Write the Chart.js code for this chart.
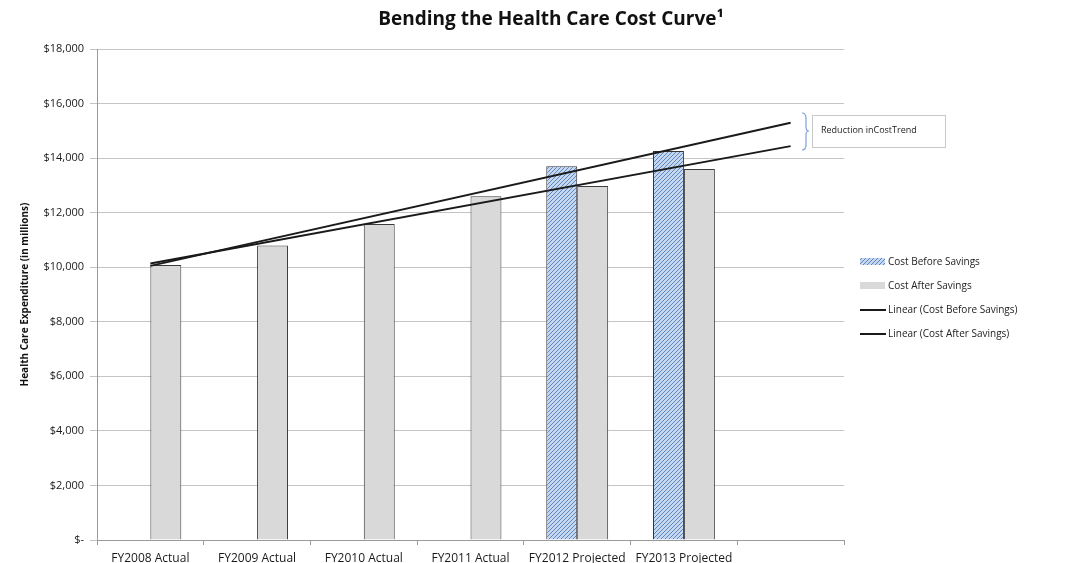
<!DOCTYPE html>
<html>
<head>
<meta charset="utf-8">
<script src="https://cdn.jsdelivr.net/npm/chart.js@4.4.1/dist/chart.umd.min.js"></script>
<style>
  html, body { margin: 0; padding: 0; background: #fff; }
  #wrap { width: 1066px; height: 563px; position: relative; }
</style>
</head>
<body>
<div id="wrap"><canvas id="costChart"></canvas></div>
<script>
// chart data
const categories = ['FY2008 Actual', 'FY2009 Actual', 'FY2010 Actual', 'FY2011 Actual', 'FY2012 Projected', 'FY2013 Projected', ''];
const costBefore = [null, null, null, null, 13700, 14260, null];
const costAfter = [10080, 10800, 11580, 12600, 12980, 13600, null];
// trendline end points (Excel linear trend, forecast one period forward)
const trendBefore = [10050, null, null, null, null, null, 15300];
const trendAfter = [10140, null, null, null, null, null, 14440];
const yTicks = [0, 2000, 4000, 6000, 8000, 10000, 12000, 14000, 16000, 18000];

const FONT = "'Open Sans', 'DejaVu Sans', sans-serif";

function makeHatch() {
    const c = document.createElement('canvas');
    c.width = 4; c.height = 4;
    const g = c.getContext('2d');
    g.fillStyle = '#c6d8ef';
    g.fillRect(0, 0, 4, 4);
    g.strokeStyle = '#5b84c0';
    g.lineWidth = 1;
    g.beginPath();
    g.moveTo(0, 4); g.lineTo(4, 0);
    g.moveTo(-1, 1); g.lineTo(1, -1);
    g.moveTo(3, 5); g.lineTo(5, 3);
    g.stroke();
    return g.createPattern(c, 'repeat');
}
const hatch = makeHatch();

// title, legend and the "Reduction in Cost Trend" note
const decor = {
    id: 'decor',
    afterDraw(chart) {
        const ctx = chart.ctx;
        ctx.save();

        ctx.fillStyle = '#111';
        ctx.font = "bold 19px " + FONT;
        ctx.textAlign = 'center';
        ctx.textBaseline = 'middle';
        ctx.fillText('Bending the Health Care Cost Curve\u00b9', 551, 20);

        // legend
        const items = chart.data.datasets;
        const ys = [262, 286, 310, 334];
        ctx.font = "10px " + FONT;
        ctx.textAlign = 'left';
        items.forEach((d, i) => {
            const y = ys[i];
            if (d.type === 'line') {
                ctx.strokeStyle = d.borderColor;
                ctx.lineWidth = 2;
                ctx.beginPath();
                ctx.moveTo(860, y);
                ctx.lineTo(886, y);
                ctx.stroke();
            } else {
                ctx.fillStyle = d.backgroundColor;
                ctx.fillRect(860, y - 4, 25, 7);
            }
            ctx.fillStyle = '#222';
            ctx.fillText(d.label, 888, y);
        });

        // brace + note box
        ctx.strokeStyle = '#7fa3d6';
        ctx.lineWidth = 1.2;
        ctx.beginPath();
        ctx.moveTo(802, 113);
        ctx.quadraticCurveTo(806, 113, 806, 118);
        ctx.lineTo(806, 127);
        ctx.quadraticCurveTo(806, 131, 809, 131);
        ctx.quadraticCurveTo(806, 131, 806, 135);
        ctx.lineTo(806, 145);
        ctx.quadraticCurveTo(806, 150, 802, 150);
        ctx.stroke();

        ctx.strokeStyle = '#c8c8c8';
        ctx.lineWidth = 1;
        ctx.strokeRect(812.5, 115.5, 133, 32);
        ctx.fillStyle = '#222';
        ctx.font = "9px " + FONT;
        ctx.fillText('Reduction inCostTrend', 821, 130);

        ctx.restore();
    }
};

new Chart(document.getElementById('costChart'), {
    type: 'bar',
    data: {
        labels: categories,
        datasets: [
            {
                label: 'Cost Before Savings',
                data: costBefore,
                backgroundColor: hatch,
                borderColor: '#333',
                borderWidth: 1,
                order: 2
            },
            {
                label: 'Cost After Savings',
                data: costAfter,
                backgroundColor: '#d9d9d9',
                borderColor: '#3c3c3c',
                borderWidth: 1,
                order: 2
            },
            {
                type: 'line',
                label: 'Linear (Cost Before Savings)',
                data: trendBefore,
                borderColor: '#1a1a1a',
                borderWidth: 2,
                pointRadius: 0,
                spanGaps: true,
                order: 0
            },
            {
                type: 'line',
                label: 'Linear (Cost After Savings)',
                data: trendAfter,
                borderColor: '#1a1a1a',
                borderWidth: 2,
                pointRadius: 0,
                spanGaps: true,
                order: 0
            }
        ]
    },
    options: {
        responsive: true,
        maintainAspectRatio: false,
        animation: false,
        categoryPercentage: 0.58,
        barPercentage: 1,
        layout: { padding: { top: 49, right: 222, bottom: 0, left: 0 } },
        plugins: {
            legend: { display: false },
            title: { display: false },
            tooltip: { enabled: false }
        },
        scales: {
            x: {
                offset: true,
                grid: { display: true, drawOnChartArea: false, offset: true, color: '#9a9a9a', tickLength: 5 },
                border: { color: '#9a9a9a' },
                ticks: { color: '#1a1a1a', font: { family: FONT, size: 12 }, maxRotation: 0, autoSkip: false, padding: 6 },
                afterFit: s => { s.height = 23; }
            },
            y: {
                min: 0,
                max: 18000,
                afterBuildTicks: s => { s.ticks = yTicks.map(v => ({ value: v })); },
                grid: { color: '#c4c4c4', tickLength: 7 },
                border: { color: '#9a9a9a' },
                ticks: {
                    color: '#1a1a1a',
                    font: { family: FONT, size: 11 },
                    padding: 6,
                    callback: v => v === 0 ? '$-' : '$' + v.toLocaleString('en-US')
                },
                title: {
                    display: true,
                    text: 'Health Care Expenditure (in millions)',
                    color: '#111',
                    font: { family: FONT, size: 10, weight: 'bold' },
                    padding: { top: 19, bottom: 0 }
                },
                afterFit: s => { s.width = 97; }
            }
        }
    },
    plugins: [decor]
});
</script>
</body>
</html>
